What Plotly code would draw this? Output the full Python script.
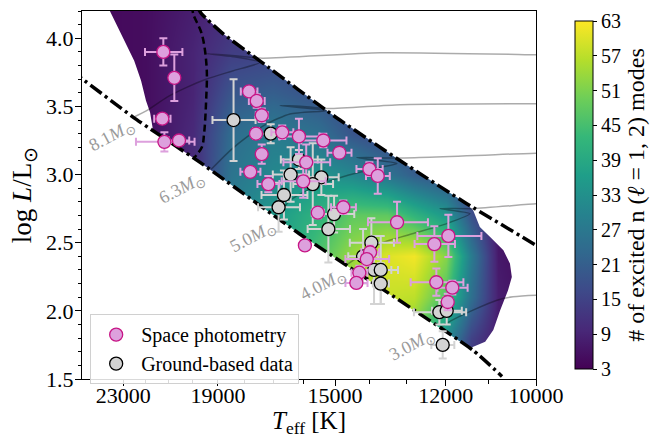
import math
import plotly.graph_objects as go

# ---------------- data ----------------
# number of excited modes, read on a coarse grid (rows: log L, cols: Teff)
grid_teff = [25000, 22000, 20000, 18500, 17000, 15500, 14500, 13500, 12800, 12000, 11400, 10800, 10000]
grid_logl = [1.5, 1.8, 2.1, 2.4, 2.7, 3.0, 3.3, 3.6, 3.9, 4.2]
n_modes = [
    [5, 8, 12, 28, 34, 44, 52, 57, 48, 30, 12, 6, 4],
    [5, 8, 12, 28, 34, 44, 52, 57, 50, 32, 15, 7, 4],
    [5, 8, 12, 28, 34, 44, 53, 58, 57, 46, 25, 8, 4],
    [5, 8, 12, 29, 36, 46, 54, 60, 62, 52, 28, 7, 4],
    [5, 8, 12, 29, 35, 42, 48, 48, 42, 35, 18, 6, 4],
    [4, 5, 10, 26, 31, 34, 31, 26, 21, 17, 12, 6, 4],
    [4, 5, 10, 24, 28, 25, 19, 15, 14, 12, 10, 6, 4],
    [4, 5, 9, 19, 21, 18, 15, 14, 14, 12, 10, 6, 4],
    [4, 5, 9, 14, 15, 15, 14, 14, 14, 12, 10, 6, 4],
    [4, 5, 8, 11, 12, 12, 12, 12, 12, 12, 10, 6, 4],
]

# outline of the computed region (upper/left chain, lower chain)
region_upper_teff = [21660, 21790, 21970, 22190, 22500, 23100, 23620, 23810,
                     19820, 19630, 18790, 17390, 15050, 13160, 11500,
                     11350, 11200, 10970, 10680, 10540, 10500, 10580, 10750, 10900, 11080, 11350, 11424]
region_upper_logl = [3.323, 3.455, 3.542, 3.689, 3.835, 4.033, 4.196, 4.274,
                     4.231, 4.177, 4.031, 3.823, 3.433, 3.103, 2.786,
                     2.737, 2.615, 2.542, 2.444, 2.347, 2.249, 2.152, 2.005, 1.859, 1.773, 1.736, 1.725]
region_lower_teff = [21660, 19700, 16100, 11424]
region_lower_logl = [3.323, 3.089, 2.562, 1.725]

# boundary lines
upper_edge_teff = [19820, 19630, 18790, 17390, 15050, 13160, 11500, 10000, 9800]
upper_edge_logl = [4.231, 4.177, 4.031, 3.823, 3.433, 3.103, 2.786, 2.481, 2.432]
lower_edge_teff = [25610, 25010, 22540, 19700, 16100, 11360, 10710]
lower_edge_logl = [3.762, 3.704, 3.420, 3.089, 2.562, 1.712, 1.519]
dashed_teff = [20020, 19970, 19630, 19440, 19460, 19540, 19630, 19970]
dashed_logl = [4.238, 4.177, 4.031, 3.786, 3.542, 3.301, 3.201, 3.116]

# evolutionary tracks
track_81_teff = [22540, 21940, 21070, 20240, 19440, 18420, 17450, 18430, 19425, 18360, 17380, 13700, 10000, 9800]
track_81_logl = [3.420, 3.469, 3.567, 3.640, 3.701, 3.762, 3.823, 3.865, 3.887, 3.872, 3.854, 3.894, 3.879, 3.878]
track_63_teff = [19270, 18540, 17930, 17220, 16430, 15255, 16770, 16100, 15210, 13160, 10000, 9800]
track_63_logl = [3.037, 3.176, 3.274, 3.372, 3.445, 3.469, 3.506, 3.502, 3.484, 3.513, 3.520, 3.520]
track_50_teff = [16870, 16430, 15680, 14640, 13700, 13240, 14360, 13160, 10000, 9800]
track_50_logl = [2.686, 2.810, 2.906, 2.993, 3.052, 3.081, 3.125, 3.122, 3.157, 3.158]
track_40_teff = [14670, 13700, 12810, 11975, 11424, 12140, 11356, 10000, 9800]
track_40_logl = [2.335, 2.493, 2.567, 2.640, 2.713, 2.750, 2.750, 2.785, 2.786]
track_30_teff = [12140, 11970, 11356, 10820, 10475, 10000, 9800]
track_30_logl = [1.873, 1.910, 2.005, 2.078, 2.103, 2.115, 2.116]
track_labels = ["8.1", "6.3", "5.0", "4.0", "3.0"]
track_label_teff = [23530, 20390, 17700, 15370, 12820]
track_label_logl = [3.279, 2.898, 2.540, 2.188, 1.749]

# observed stars
space_teff = [21215, 20750, 21260, 21170, 20555, 17845, 17571, 17394, 17596, 16689, 16136,
              15360, 14872, 17394, 15900, 17800, 17165, 15997, 13997, 13763, 15534, 14753,
              15943, 13237, 11935, 12277, 13978, 14071, 14283, 14370, 12228, 11840, 11950]
space_logl = [3.90, 3.71, 3.41, 3.24, 3.25, 3.61, 3.54, 3.435, 3.30, 3.31, 3.28,
              3.25, 3.16, 3.15, 3.09, 3.02, 2.93, 2.95, 3.04, 2.99, 2.72, 2.76,
              2.48, 2.65, 2.55, 2.49, 2.43, 2.38, 2.28, 2.205, 2.21, 2.17, 2.065]
space_teff_err = [800, 150, 350, 1250, 420, 300, 280, 210, 180, 370, 650,
                  700, 360, 140, 750, 360, 380, 710, 370, 330, 190, 370,
                  0, 800, 770, 500, 250, 620, 230, 320, 650, 360, 120]
space_logl_err = [0.10, 0.17, 0.03, 0.07, 0.03, 0.03, 0.05, 0.05, 0.04, 0.05, 0.13,
                  0.05, 0.03, 0.07, 0.13, 0.03, 0.06, 0.12, 0.05, 0.13, 0.04, 0.05,
                  0.0, 0.15, 0.155, 0.13, 0.05, 0.05, 0.05, 0.04, 0.10, 0.05, 0.06]

ground_teff = [18412, 17082, 16136, 16409, 15422, 15692, 16632, 16812, 15031, 15205,
               13941, 14177, 13866, 13680, 13680, 12154, 11975, 12072]
ground_logl = [3.40, 3.30, 3.11, 3.00, 2.98, 2.93, 2.85, 2.76, 2.71, 2.60,
               2.50, 2.40, 2.30, 2.30, 2.20, 1.99, 2.00, 1.75]
ground_teff_err = [800, 400, 600, 600, 530, 630, 770, 710, 600, 650,
                   620, 430, 475, 470, 220, 640, 360, 280]
ground_logl_err = [0.30, 0.07, 0.07, 0.20, 0.13, 0.30, 0.18, 0.18, 0.135, 0.245,
                   0.18, 0.20, 0.25, 0.25, 0.15, 0.09, 0.10, 0.10]

x_major = [23000, 19000, 15000, 12000, 10000]
x_minor = [22000, 21000, 20000, 18000, 17000, 16000, 14000, 13000, 11000]
y_major = [1.5, 2.0, 2.5, 3.0, 3.5, 4.0]
cbar_ticks = [3, 9, 15, 21, 27, 33, 39, 45, 51, 57, 63]

# ---------------- figure ----------------
FONT = "Liberation Serif"
fig = go.Figure()

fig.add_trace(go.Heatmap(
    x=grid_teff, y=grid_logl, z=n_modes, zsmooth="best",
    colorscale="Viridis", zmin=3, zmax=63, showscale=True,
    colorbar=dict(
        x=1.064, xanchor="left", xref="paper", y=0.5, yanchor="middle", len=1.0,
        thickness=18, outlinewidth=1, outlinecolor="black",
        tickvals=cbar_ticks, ticks="outside", ticklen=4, tickcolor="black",
        tickfont=dict(family=FONT, size=20, color="black"),
        title=dict(text="# of excited n (<i>ℓ</i> = 1, 2) modes", side="right",
                   font=dict(family=FONT, size=24, color="black")),
    ),
    hoverinfo="skip",
))

# white masks outside the computed region (they overlap slightly at their shared ends)
far_hot, far_cool, far_low, far_high = 30000, 9000, 1.0, 4.6
mask_a_x = region_upper_teff + [far_cool, far_cool, far_hot, far_hot]
mask_a_y = region_upper_logl + [region_upper_logl[-1] - 0.08, far_high, far_high, region_upper_logl[0] - 0.08]
mask_b_x = region_lower_teff + [far_cool, far_cool, far_hot, far_hot]
mask_b_y = region_lower_logl + [region_lower_logl[-1] + 0.08, far_low, far_low, region_lower_logl[0] + 0.08]
for mx, my in [(mask_a_x, mask_a_y), (mask_b_x, mask_b_y)]:
    fig.add_trace(go.Scatter(x=mx, y=my, mode="lines", fill="toself", fillcolor="white",
                             line=dict(width=0, color="white"), showlegend=False, hoverinfo="skip"))

# tracks
for tx, ty in [(track_81_teff, track_81_logl), (track_63_teff, track_63_logl),
               (track_50_teff, track_50_logl), (track_40_teff, track_40_logl),
               (track_30_teff, track_30_logl)]:
    fig.add_trace(go.Scatter(x=tx, y=ty, mode="lines",
                             line=dict(color="rgba(0,0,0,0.33)", width=1.5, shape="spline", smoothing=0.6),
                             showlegend=False, hoverinfo="skip"))

# boundaries
dashdot = "14px,4px,3px,4px"
fig.add_trace(go.Scatter(x=upper_edge_teff, y=upper_edge_logl, mode="lines",
                         line=dict(color="black", width=3.5, dash=dashdot, shape="spline", smoothing=0.5),
                         showlegend=False, hoverinfo="skip"))
fig.add_trace(go.Scatter(x=lower_edge_teff, y=lower_edge_logl, mode="lines",
                         line=dict(color="black", width=3.5, dash=dashdot, shape="spline", smoothing=0.5),
                         showlegend=False, hoverinfo="skip"))
fig.add_trace(go.Scatter(x=dashed_teff, y=dashed_logl, mode="lines",
                         line=dict(color="black", width=2.5, dash="7px,4px", shape="spline"),
                         showlegend=False, hoverinfo="skip"))

# stars
fig.add_trace(go.Scatter(
    x=ground_teff, y=ground_logl, mode="markers", name="Ground-based data", legendrank=2,
    marker=dict(size=13, color="#d3d3d3", line=dict(color="black", width=1.3)),
    error_x=dict(type="data", array=ground_teff_err, color="#d3d3d3", thickness=2, width=4),
    error_y=dict(type="data", array=ground_logl_err, color="#d3d3d3", thickness=2, width=4),
))
fig.add_trace(go.Scatter(
    x=space_teff, y=space_logl, mode="markers", name="Space photometry", legendrank=1,
    marker=dict(size=13, color="#dda0dd", line=dict(color="#c71585", width=1.3)),
    error_x=dict(type="data", array=space_teff_err, color="#dda0dd", thickness=2, width=4),
    error_y=dict(type="data", array=space_logl_err, color="#dda0dd", thickness=2, width=4),
))

for lab, lx, ly in zip(track_labels, track_label_teff, track_label_logl):
    fig.add_annotation(x=math.log10(lx), y=ly, xref="x", yref="y",
                       text=lab + "<i>M</i><sub>⊙</sub>", showarrow=False, textangle=-28,
                       font=dict(family=FONT, size=18, color="#9a9a9a"))

axis_common = dict(showgrid=False, zeroline=False, showline=True, mirror=True, linecolor="black",
                   linewidth=1, ticks="outside", ticklen=6, tickwidth=1, tickcolor="black",
                   automargin=False, tickfont=dict(family=FONT, size=22, color="black"))
fig.update_layout(
    width=655, height=438, margin=dict(l=82, r=119, t=11, b=59, autoexpand=False),
    paper_bgcolor="white", plot_bgcolor="white",
    font=dict(family=FONT, color="black"),
    xaxis=dict(type="log", range=[math.log10(25000), 4.0], autorange=False,
               tickmode="array", tickvals=x_major, ticktext=[str(v) for v in x_major],
               ticklabelstandoff=-9,
               minor=dict(tickmode="array", tickvals=x_minor, ticks="outside", ticklen=3.5, tickcolor="black"),
               title=dict(text="<i>T</i><sub>eff</sub> [K]", font=dict(family=FONT, size=25), standoff=10),
               **axis_common),
    yaxis=dict(range=[1.5, 4.2], autorange=False, tickmode="array", tickvals=y_major,
               ticktext=[f"{v:.1f}" for v in y_major], ticklabelstandoff=-3,
               minor=dict(dtick=0.1, ticks="outside", ticklen=3.5, tickcolor="black"),
               title=dict(text="log <i>L</i>/L<sub>⊙</sub>", font=dict(family=FONT, size=27), standoff=6),
               **axis_common),
    legend=dict(x=0.018, y=-0.014, xanchor="left", yanchor="bottom",
                bordercolor="#d0d0d0", borderwidth=1, bgcolor="rgba(255,255,255,0.85)",
                font=dict(family=FONT, size=20), itemwidth=40),
    showlegend=True,
)

fig.write_html("out.html")
